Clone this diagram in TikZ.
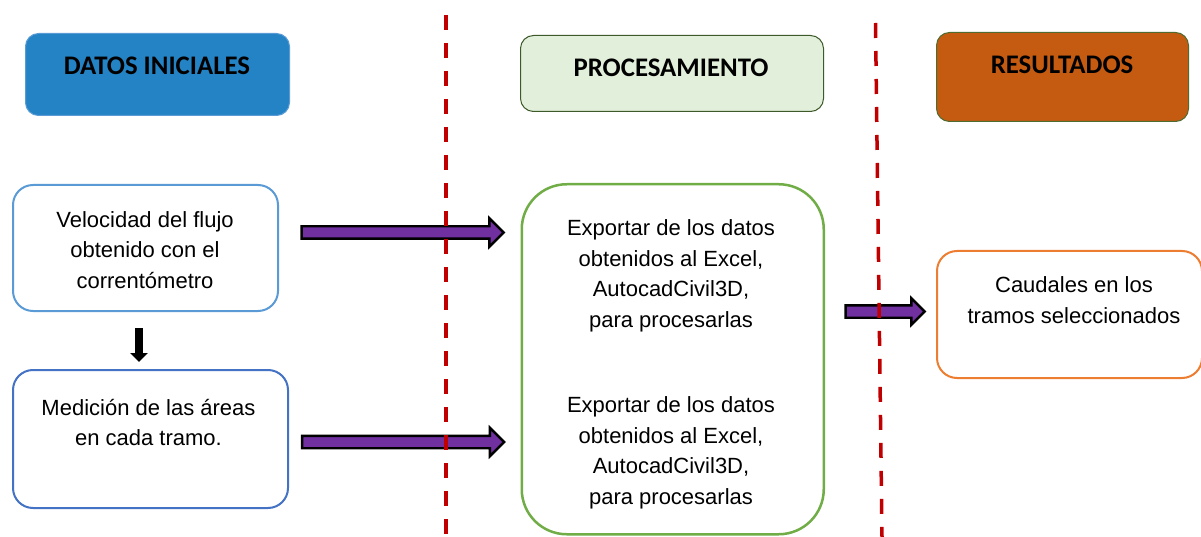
\documentclass[tikz,border=0pt]{standalone}
\usepackage{fontspec}
\setmainfont{Liberation Sans}
\newfontfamily\headfont{Carlito}
\usetikzlibrary{shapes.arrows,arrows.meta}
\definecolor{hblue}{HTML}{2383C4}
\definecolor{hblueb}{HTML}{5B9BD5}
\definecolor{hgreen}{HTML}{E2EFDA}
\definecolor{hgreenb}{HTML}{3D5A2A}
\definecolor{horange}{HTML}{C55A11}
\definecolor{horangeb}{HTML}{4E6B30}
\definecolor{bbluea}{HTML}{5B9BD5}
\definecolor{bblueb}{HTML}{4472C4}
\definecolor{bgreen}{HTML}{70AD47}
\definecolor{borange}{HTML}{ED7D31}
\definecolor{parrowc}{HTML}{7030A0}
\definecolor{redl}{HTML}{C00000}
\begin{document}
\begin{tikzpicture}[x=1pt,y=-1pt,
  headbox/.style={draw, line width=1pt, rounded corners=13pt, anchor=north west, inner sep=0pt},
  headtext/.style={font=\headfont\bfseries\fontsize{26.8}{30}\selectfont, text=black, inner sep=0pt},
  bodybox/.style={draw, line width=2pt, fill=white, anchor=north west, inner sep=0pt},
  bodytext/.style={font=\fontsize{22}{30.5}\selectfont, align=center, inner sep=0pt},
  parrow/.style={single arrow, draw=black, line width=2.4pt, fill=parrowc, inner sep=5pt,
    single arrow head extend=8pt, single arrow tip angle=90},
  redline/.style={draw=redl, line width=3.5pt, dash pattern=on 15pt off 13pt}
]
\useasboundingbox (0,0) rectangle (1201,537);
\clip (0,0) rectangle (1201,537);
% headings
\node[headbox, fill=hblue, draw=hblueb, minimum width=264pt, minimum height=82pt] (h1) at (25,33) {};
\node[headtext] (h1t) at (157,65.5) {DATOS INICIALES};
\node[headbox, fill=hgreen, draw=hgreenb, minimum width=303pt, minimum height=76pt] (h2) at (520,35) {};
\node[headtext] (h2t) at (671,68) {PROCESAMIENTO};
\node[headbox, fill=horange, draw=horangeb, minimum width=252pt, minimum height=89pt] (h3) at (936,32) {};
\node[headtext] (h3t) at (1062,65) {RESULTADOS};
% body boxes
\node[bodybox, draw=bbluea, rounded corners=20pt, minimum width=265pt, minimum height=126pt] (b1) at (12,184) {};
\node[bodytext] (b1t) at (145,250) {Velocidad del flujo\\obtenido con el\\correntómetro};
\node[bodybox, draw=bblueb, rounded corners=20pt, minimum width=275pt, minimum height=138pt] (b2) at (12,369) {};
\node[bodytext] (b2t) at (148.5,422.5) {Medición de las áreas\\en cada tramo.};
\node[bodybox, draw=bgreen, line width=2.5pt, rounded corners=45pt, minimum width=302pt, minimum height=350pt] (g) at (520.5,183) {};
\node[bodytext] (g1) at (671,276) {Exportar de los datos\\obtenidos al Excel,\\AutocadCivil3D,\\para procesarlas};
\node[bodytext] (g2) at (671,453) {Exportar de los datos\\obtenidos al Excel,\\AutocadCivil3D,\\para procesarlas};
\node[bodybox, draw=borange, rounded corners=20pt, minimum width=265pt, minimum height=127pt] (o) at (936,250) {};
\node[bodytext] (ot) at (1074,300) {Caudales en los\\tramos seleccionados};
% arrows
\node[parrow, minimum height=202pt] (a1) at (399.5,232.5) {};
\node[parrow, minimum height=202pt] (a2) at (400,442) {};
\node[parrow, minimum height=79pt, inner sep=5pt, single arrow head extend=7pt] (a3) at (882,311.5) {};
\coordinate (d1) at (139,328);
\coordinate (d2) at (139,362);
\draw[line width=7.5pt, -{Triangle[length=9pt,width=17pt]}] (d1) -- (d2);
% separators (drawn over the arrows)
\draw[redline] (446,15) -- (446,537);
\draw[redline] (875.5,23) -- (882,537);
\end{tikzpicture}
\end{document}
